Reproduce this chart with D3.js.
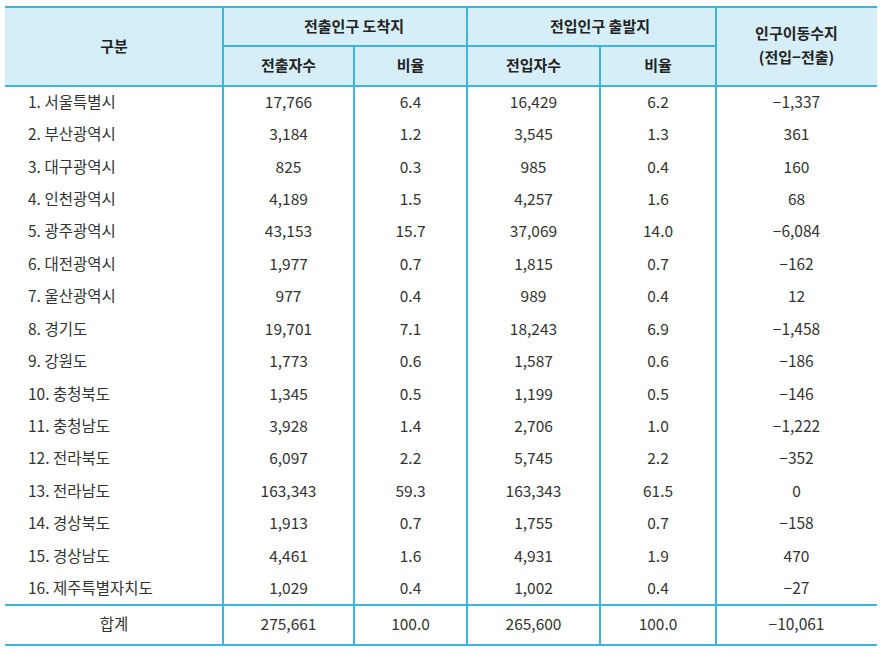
<!DOCTYPE html>
<html>
<head>
<meta charset="utf-8">
<script src="https://cdn.jsdelivr.net/npm/d3@7"></script>
<style>
  body { margin: 0; background: #fff; }
  text { font-family: "Noto Sans CJK KR", "Noto Sans", sans-serif; }
</style>
</head>
<body>
<svg id="table"></svg>
<script>
'use strict'

const width = 886,
      height = 655

// table data
const regions = ['1. 서울특별시', '2. 부산광역시', '3. 대구광역시', '4. 인천광역시', '5. 광주광역시',
  '6. 대전광역시', '7. 울산광역시', '8. 경기도', '9. 강원도', '10. 충청북도', '11. 충청남도',
  '12. 전라북도', '13. 전라남도', '14. 경상북도', '15. 경상남도', '16. 제주특별자치도']
const outCount = ['17,766', '3,184', '825', '4,189', '43,153', '1,977', '977', '19,701', '1,773',
  '1,345', '3,928', '6,097', '163,343', '1,913', '4,461', '1,029']
const outRatio = ['6.4', '1.2', '0.3', '1.5', '15.7', '0.7', '0.4', '7.1', '0.6', '0.5', '1.4',
  '2.2', '59.3', '0.7', '1.6', '0.4']
const inCount = ['16,429', '3,545', '985', '4,257', '37,069', '1,815', '989', '18,243', '1,587',
  '1,199', '2,706', '5,745', '163,343', '1,755', '4,931', '1,002']
const inRatio = ['6.2', '1.3', '0.4', '1.6', '14.0', '0.7', '0.4', '6.9', '0.6', '0.5', '1.0',
  '2.2', '61.5', '0.7', '1.9', '0.4']
const netMove = ['−1,337', '361', '160', '68', '−6,084', '−162', '12', '−1,458', '−186', '−146',
  '−1,222', '−352', '0', '−158', '470', '−27']
const totalRow = ['합계', '275,661', '100.0', '265,600', '100.0', '−10,061']

const subHeaders = ['전출자수', '비율', '전입자수', '비율']

const lineColor = '#3cb6e0',
      headFill = '#d6eef7',
      textColor = '#333'

// column edges
const colEdges = [5, 223, 354, 467, 600, 716, 877]
const colX = i => colEdges[i]
const colMid = i => (colEdges[i] + colEdges[i + 1]) / 2

const headTop = 7, headMid = 46, bodyTop = 86, bodyBottom = 605, tableBottom = 645

const y = d3.scaleBand()
  .domain(d3.range(regions.length))
  .range([bodyTop, bodyBottom])

const svg = d3.select('#table')
  .attr('width', width)
  .attr('height', height)

// header background
svg.append('rect')
  .attr('x', colX(0)).attr('y', headTop)
  .attr('width', colX(6) - colX(0)).attr('height', bodyTop - headTop)
  .attr('fill', headFill)

// body rows
const rows = regions.map((r, i) => [r, outCount[i], outRatio[i], inCount[i], inRatio[i], netMove[i]])

const gBody = svg.append('g').attr('class', 'body')
rows.forEach((row, i) => {
  gBody.selectAll(null)
    .data(row)
    .enter().append('text')
      .attr('x', (d, j) => j === 0 ? 28 : colMid(j))
      .attr('y', y(i) + y.bandwidth() / 2)
      .attr('dy', '0.35em')
      .attr('text-anchor', (d, j) => j === 0 ? 'start' : 'middle')
      .attr('font-size', 15.5)
      .attr('fill', textColor)
      .text(d => d)
})

// total row
svg.append('g').selectAll('text')
  .data(totalRow)
  .enter().append('text')
    .attr('x', (d, j) => colMid(j))
    .attr('y', (bodyBottom + tableBottom) / 2)
    .attr('dy', '0.35em')
    .attr('text-anchor', 'middle')
    .attr('font-size', 15.5)
    .attr('fill', textColor)
    .text(d => d)

// header text
const gHead = svg.append('g')
  .attr('font-size', 15)
  .attr('font-weight', 'bold')
  .attr('fill', '#222')
  .attr('text-anchor', 'middle')

gHead.append('text').attr('x', colMid(0)).attr('y', (headTop + bodyTop) / 2).attr('dy', '0.35em').text('구분')
gHead.append('text').attr('x', colX(2)).attr('y', (headTop + headMid) / 2).attr('dy', '0.35em').text('전출인구 도착지')
gHead.append('text').attr('x', colX(4)).attr('y', (headTop + headMid) / 2).attr('dy', '0.35em').text('전입인구 출발지')
gHead.append('text').attr('x', colMid(5)).attr('y', 34).attr('dy', '0.35em').text('인구이동수지')
gHead.append('text').attr('x', colMid(5)).attr('y', 58).attr('dy', '0.35em').text('(전입−전출)')
gHead.selectAll(null)
  .data(subHeaders)
  .enter().append('text')
    .attr('x', (d, i) => colMid(i + 1))
    .attr('y', (headMid + bodyTop) / 2)
    .attr('dy', '0.35em')
    .text(d => d)

// grid lines
const gLines = svg.append('g')
  .attr('stroke', lineColor)
  .attr('stroke-width', 1.2)
  .attr('shape-rendering', 'crispEdges')

// horizontal lines
const hLines = [
  [colX(0), colX(6), headTop],
  [colX(1), colX(5), headMid],
  [colX(0), colX(6), bodyTop],
  [colX(0), colX(6), bodyBottom],
  [colX(0), colX(6), tableBottom]
]
gLines.selectAll('line.h')
  .data(hLines)
  .enter().append('line')
    .attr('class', 'h')
    .attr('x1', d => d[0]).attr('x2', d => d[1])
    .attr('y1', d => d[2]).attr('y2', d => d[2])

// vertical lines
const vLines = [
  [colX(1), headTop], [colX(3), headTop], [colX(5), headTop],
  [colX(2), headMid], [colX(4), headMid]
]
gLines.selectAll('line.v')
  .data(vLines)
  .enter().append('line')
    .attr('class', 'v')
    .attr('x1', d => d[0]).attr('x2', d => d[0])
    .attr('y1', d => d[1]).attr('y2', tableBottom)
</script>
</body>
</html>
